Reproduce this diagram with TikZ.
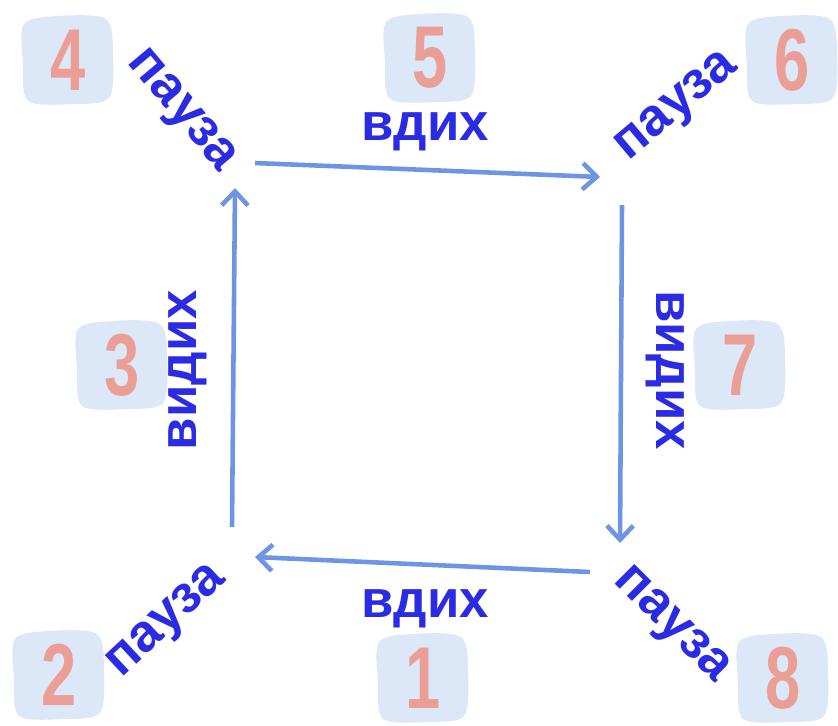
\documentclass[tikz,border=0pt]{standalone}
\usepackage{fontspec}
\setmainfont{Liberation Sans}
\usetikzlibrary{arrows.meta}
\definecolor{wordblue}{HTML}{2B2BE3}
\definecolor{arrowblue}{HTML}{6E94E6}
\definecolor{blobblue}{HTML}{DCE7F7}
\definecolor{digitpink}{HTML}{EA9E96}

\begin{document}
\begin{tikzpicture}[x=0.02cm,y=-0.02cm,
  word/.style={text=wordblue,font=\fontsize{30}{30}\selectfont\bfseries,inner sep=0pt},
  num/.style={text=digitpink,font=\fontsize{50}{50}\selectfont\bfseries,xscale=0.72,inner sep=0pt},
  blob/.style={fill=blobblue},
  flow/.style={draw=arrowblue,line width=2.6pt,-{Straight Barb[length=8pt,width=15pt]}}]
\useasboundingbox (0,0) rectangle (838,725);

% numbered steps
\foreach \n/\x/\y in {1/423/678,2/59/675,3/122/365,4/68/60,5/430/58,6/792/60,7/740/365,8/783/678}{
  \fill[blob] plot[smooth cycle] coordinates {(\x-44,\y-36) (\x-10,\y-44) (\x+38,\y-41) (\x+45,\y-5)
    (\x+41,\y+38) (\x+5,\y+44) (\x-40,\y+41) (\x-45,\y+4)};
  \node[num] (n\n) at (\x,\y) {\n};
}

% breathing labels
\node[word] (inhaletop) at (425,132) {вдих};
\node[word] (inhalebot) at (425,609) {вдих};
\node[word,rotate=90] (exhaleleft) at (188,370) {видих};
\node[word,rotate=-90] (exhaleright) at (665,370) {видих};
\node[word,rotate=-50] (pause4) at (180,112) {пауза};
\node[word,rotate=40] (pause6) at (678,108) {пауза};
\node[word,rotate=43] (pause2) at (168,623) {пауза};
\node[word,rotate=-45] (pause8) at (670,626) {пауза};

\coordinate (tl) at (255,163);
\coordinate (tr) at (600,177);
\coordinate (rt) at (622,205);
\coordinate (rb) at (620,543);
\coordinate (br) at (590,572);
\coordinate (bl) at (255,557);
\coordinate (lb) at (232,527);
\coordinate (lt) at (235,188);

\draw[flow] (tl) -- (tr);
\draw[flow] (rt) -- (rb);
\draw[flow] (br) -- (bl);
\draw[flow] (lb) -- (lt);
\end{tikzpicture}
\end{document}
